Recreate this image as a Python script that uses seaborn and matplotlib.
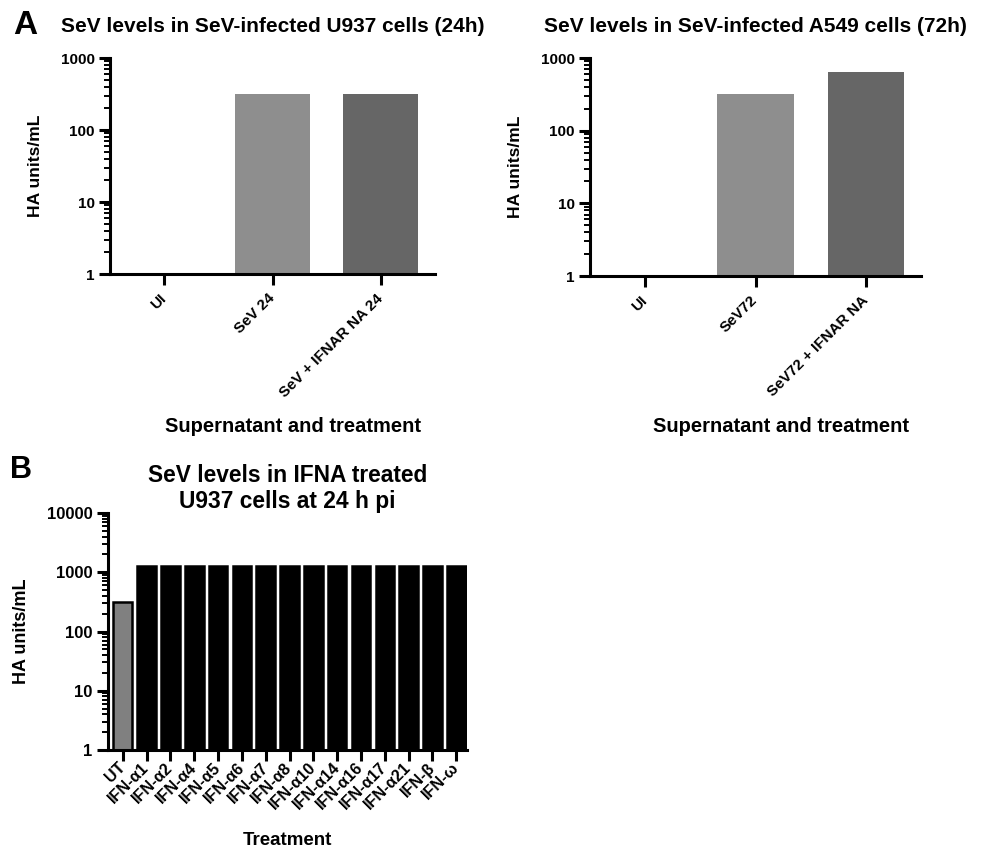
import numpy as np
import pandas as pd
import matplotlib
matplotlib.use("Agg")
import matplotlib.pyplot as plt
import seaborn as sns

sns.set_theme(style="ticks")
plt.rcParams['font.family'] = ['Liberation Sans', 'DejaVu Sans']
plt.rcParams['font.weight'] = 'bold'
plt.rcParams['axes.labelweight'] = 'bold'
plt.rcParams['axes.titleweight'] = 'bold'
plt.rcParams.update({'text.color': 'black', 'axes.labelcolor': 'black',
                     'xtick.color': 'black', 'ytick.color': 'black'})

# ---- data ----
u937_labels = ["UI", "SeV 24", "SeV + IFNAR NA 24"]
u937_values = [1, 320, 320]

a549_labels = ["UI", "SeV72", "SeV72 + IFNAR NA"]
a549_values = [1, 320, 640]

ifn_labels = ["UT", "IFN-α1", "IFN-α2", "IFN-α4", "IFN-α5", "IFN-α6", "IFN-α7",
              "IFN-α8", "IFN-α10", "IFN-α14", "IFN-α16", "IFN-α17", "IFN-α21",
              "IFN-β", "IFN-ω"]
ifn_values = [320, 1280, 1280, 1280, 1280, 1280, 1280, 1280, 1280, 1280,
              1280, 1280, 1280, 1280, 1280]

bar_colors_a = ["#ffffff", "#8e8e8e", "#666666"]
bar_colors_b = ["#808080"] + ["#000000"] * 14

W, H = 989, 849
fig = plt.figure(figsize=(W / 100, H / 100), dpi=100)


def px_axes(left, top, right, bottom):
    return fig.add_axes([left / W, 1 - bottom / H, (right - left) / W, (bottom - top) / H])


def style_axis(ax, top, labelsize):
    ax.set_yscale('log')
    ax.set_ylim(1, top)
    sns.despine(ax=ax)
    for s in ['left', 'bottom']:
        ax.spines[s].set_linewidth(2.2)
        ax.spines[s].set_color('black')
    ax.tick_params(axis='both', which='major', length=8, width=2.2, color='black',
                   labelsize=labelsize, pad=3)
    ax.tick_params(axis='y', which='minor', length=4, width=1.4, color='black')
    ax.yaxis.set_major_formatter(matplotlib.ticker.FuncFormatter(lambda v, p: f"{int(round(v))}"))
    ax.grid(False)


def draw_a(ax, labels, values, title):
    df = pd.DataFrame({"label": labels, "value": values})
    sns.barplot(data=df, x="label", y="value", hue="label", palette=bar_colors_a,
                legend=False, width=0.69, linewidth=0, ax=ax)
    style_axis(ax, 1000, 11)
    ax.set_xlim(-0.5, 2.5)
    ax.set_title(title, fontsize=15, pad=19)
    ax.set_ylabel("HA units/mL", fontsize=12.6, labelpad=13)
    ax.set_xlabel("")
    ax.set_xticks(range(len(labels)))
    ax.set_xticklabels(labels, rotation=45, ha='right', va='center',
                       rotation_mode='anchor', fontsize=11)
    ax.tick_params(axis='x', pad=8)
    for t in ax.get_xticklabels() + ax.get_yticklabels():
        t.set_fontweight('bold')


ax1 = px_axes(110, 58, 435, 274)
draw_a(ax1, u937_labels, u937_values, "SeV levels in SeV-infected U937 cells (24h)")
ax1.text(0.563, -0.706, "Supernatant and treatment", transform=ax1.transAxes,
         ha='center', va='center', fontsize=14.5, fontweight='bold')

ax2 = px_axes(590, 58, 921, 276)
draw_a(ax2, a549_labels, a549_values, "SeV levels in SeV-infected A549 cells (72h)")
ax2.text(0.577, -0.69, "Supernatant and treatment", transform=ax2.transAxes,
         ha='center', va='center', fontsize=14.5, fontweight='bold')

# panel B
ax3 = px_axes(108, 513, 467, 750)
df_b = pd.DataFrame({"label": ifn_labels, "value": ifn_values})
sns.barplot(data=df_b, x="label", y="value", hue="label", palette=bar_colors_b,
            legend=False, width=0.78, edgecolor='black', linewidth=1.8, ax=ax3)
style_axis(ax3, 10000, 12)
ax3.set_xlim(-0.62, 14.45)
ax3.set_title("SeV levels in IFNA treated\nU937 cells at 24 h pi", fontsize=16.4,
              pad=-1, linespacing=1.15)
ax3.set_ylabel("HA units/mL", fontsize=13, labelpad=12)
ax3.set_xlabel("Treatment", fontsize=13.5, labelpad=14)
ax3.set_xticks(range(len(ifn_labels)))
ax3.set_xticklabels(ifn_labels, rotation=45, ha='right', va='center',
                    rotation_mode='anchor', fontsize=11.5)
for t in ax3.get_xticklabels() + ax3.get_yticklabels():
    t.set_fontweight('bold')

fig.text(13 / W, 1 - 25 / H, "A", fontsize=24, fontweight='bold', va='center', ha='left')
fig.text(10 / W, 1 - 470 / H, "B", fontsize=22, fontweight='bold', va='center', ha='left')

fig.savefig("out.png", dpi=100, facecolor='white')
